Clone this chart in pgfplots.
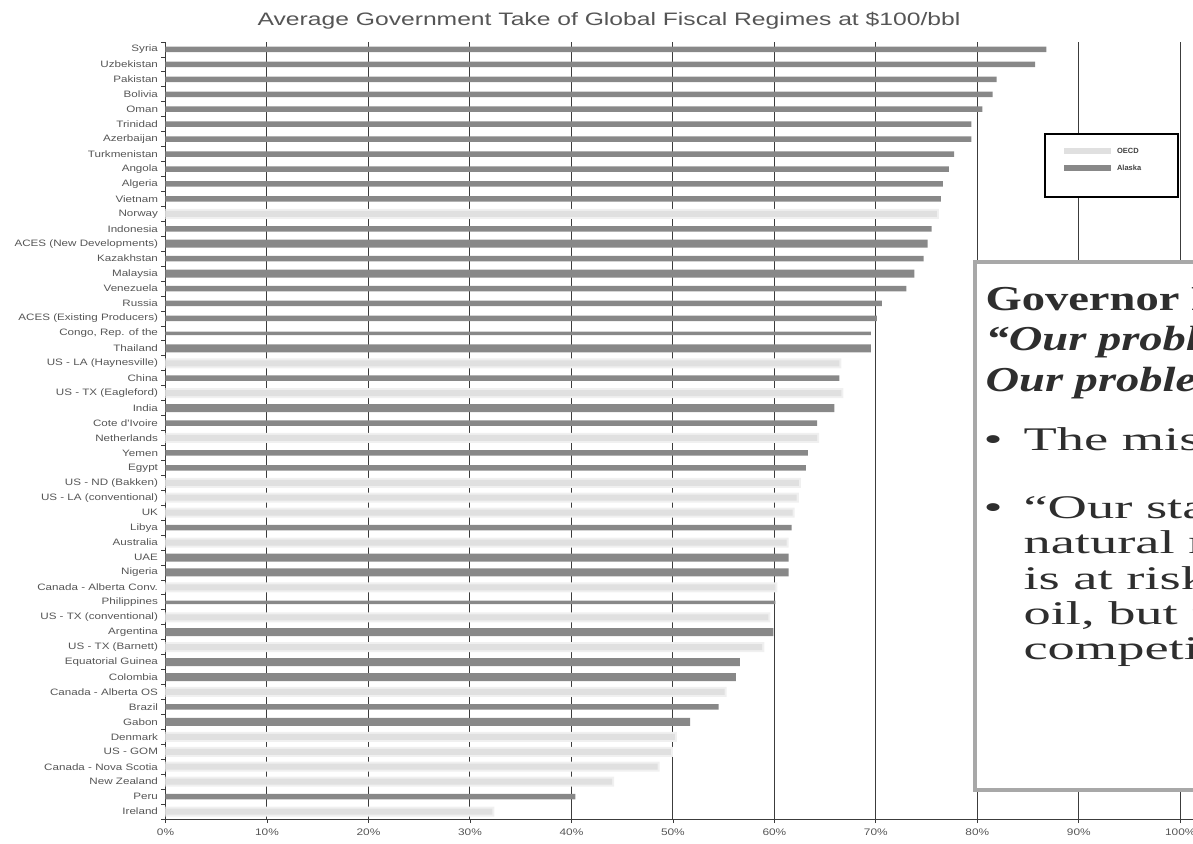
\documentclass[border=0pt]{standalone}
\usepackage{fontspec}
\usepackage{pgfplots}
\pgfplotsset{compat=1.18}
\setmainfont{Liberation Serif}
\newfontfamily\lblfont[FakeStretch=1.25]{Liberation Sans}
\newfontfamily\titlefont[FakeStretch=1.37]{Liberation Sans}
\newfontfamily\legfont{Liberation Sans}
\newfontfamily\boxhead[FakeStretch=1.33]{Liberation Serif}
\newfontfamily\boxbody[FakeStretch=1.65]{Liberation Serif}
\definecolor{barDark}{HTML}{888888}
\definecolor{barLight}{HTML}{E0E0E0}
\definecolor{barHaze}{HTML}{F0F0F0}
\definecolor{gridc}{HTML}{3C3C3C}
\definecolor{txtgray}{HTML}{555555}
\definecolor{boxframe}{HTML}{A8A8A8}
\definecolor{boxtext}{HTML}{2E2E2E}

\begin{document}
\begin{tikzpicture}[x=1pt,y=1pt]
\useasboundingbox (0,0) rectangle (1193,843);
\clip (0,0) rectangle (1193,843);

\node[font=\titlefont\fontsize{18}{21}\selectfont, text=txtgray] at (609,822)
  {Average Government Take of Global Fiscal Regimes at \$100/bbl};

\begin{axis}[
  at={(165.5pt,24pt)}, anchor=south west,
  scale only axis, width=1028pt, height=777pt,
  xmin=0, xmax=101.3, ymin=0.5, ymax=52.5,
  axis lines*=left,
  axis line style={gridc, line width=1pt},
  xtick={0,10,...,100},
  xticklabels={0\%,10\%,20\%,30\%,40\%,50\%,60\%,70\%,80\%,90\%,100\%},
  xmajorgrids,
  grid style={gridc, line width=1pt},
  tick align=outside,
  major tick length=4pt,
  tick style={gridc, line width=0.8pt},
  ytick={0.5,1.5,...,52.5},
  yticklabels={},
  extra y ticks={1,...,52},
  extra y tick style={tick style={draw=none}, yticklabel style={xshift=0pt}},
  extra y tick labels={Ireland,Peru,New Zealand,Canada - Nova Scotia,US - GOM,Denmark,
    Gabon,Brazil,Canada - Alberta OS,Colombia,Equatorial Guinea,US - TX (Barnett),
    Argentina,US - TX (conventional),Philippines,Canada - Alberta Conv.,Nigeria,UAE,
    Australia,Libya,UK,US - LA (conventional),US - ND (Bakken),Egypt,Yemen,Netherlands,
    Cote d'Ivoire,India,US - TX (Eagleford),China,US - LA (Haynesville),Thailand,
    {Congo, Rep. of the},ACES (Existing Producers),Russia,Venezuela,Malaysia,Kazakhstan,
    ACES (New Developments),Indonesia,Norway,Vietnam,Algeria,Angola,Turkmenistan,
    Azerbaijan,Trinidad,Oman,Bolivia,Pakistan,Uzbekistan,Syria},
  yticklabel style={font=\lblfont\fontsize{9.3}{10}\selectfont, text=txtgray},
  xticklabel style={font=\lblfont\fontsize{9.5}{10}\selectfont, text=txtgray, yshift=-2pt},
  legend style={at={(rel axis cs:0.8546,0.883)}, anchor=north west,
    draw=black, line width=2pt, fill=white,
    font=\legfont\bfseries\fontsize{7.5}{8}\selectfont, text=black!75,
    inner xsep=19pt, inner ysep=12pt, row sep=6pt},
  legend cell align=left,
  legend image code/.code={\fill[#1] (0pt,-3pt) rectangle (47pt,3pt);},
]
% OECD regimes: soft light bars (haze underneath, core on top)
\addplot[xbar, bar shift=0pt, bar width=10pt, fill=barHaze, draw=none, forget plot]
  coordinates {(76.2,41) (66.6,31) (66.8,29) (64.4,26) (62.6,23) (62.4,22) (62.0,21)
    (61.4,19) (60.3,16) (59.6,14) (59.0,12) (55.3,9) (50.4,6) (50.0,5) (48.7,4)
    (44.2,3) (32.4,1)};
\addplot[xbar, bar shift=0pt, bar width=6pt, fill=barLight, draw=none]
  coordinates {(76.0,41) (66.4,31) (66.6,29) (64.2,26) (62.4,23) (62.2,22) (61.8,21)
    (61.2,19) (60.1,16) (59.4,14) (58.8,12) (55.1,9) (50.2,6) (49.8,5) (48.5,4)
    (44.0,3) (32.2,1)};
\addlegendentry{\hspace{4pt}\makebox[40pt][l]{OECD}}
% remaining regimes
\addplot[xbar, bar shift=0pt, bar width=5.5pt, fill=barDark, draw=none]
  coordinates {(86.8,52) (85.7,51) (81.9,50) (81.5,49) (80.5,48) (79.4,47) (79.4,46)
    (77.7,45) (77.2,44) (76.6,43) (76.4,42) (75.5,40) (74.7,38) (73.0,36) (70.6,35)
    (70.1,34) (66.4,30) (64.2,27) (63.3,25) (63.1,24) (61.7,20) (54.5,8) (40.4,2)};
\addlegendentry{\hspace{4pt}\makebox[40pt][l]{Alaska}}
\addlegendimage{empty legend}
\addlegendentry{}
\addplot[xbar, bar shift=0pt, bar width=8pt, fill=barDark, draw=none, forget plot]
  coordinates {(75.1,39) (73.8,37) (69.5,32) (65.9,28) (61.4,18) (61.4,17) (59.9,13)
    (56.6,11) (56.2,10) (51.7,7)};
\addplot[xbar, bar shift=0pt, bar width=3.5pt, fill=barDark, draw=none, forget plot]
  coordinates {(69.5,33) (60.1,15)};
\end{axis}

% quotation panel
\draw[boxframe, line width=4pt, fill=white] (975,53) rectangle (1210,581);
\begin{scope}[text=boxtext]
\node[anchor=base west, font=\boxhead\bfseries\fontsize{35}{40}\selectfont] at (982,532)
  {Governor Parnell:};
\node[anchor=base west, font=\boxhead\bfseries\itshape\fontsize{35}{40}\selectfont] at (982,492)
  {“Our problem is not a lack of oil.};
\node[anchor=base west, font=\boxhead\bfseries\itshape\fontsize{35}{40}\selectfont] at (982,451)
  {Our problem is a lack of production.”};
\node[anchor=base west, font=\boxbody\fontsize{33}{36}\selectfont] at (980,392) {•};
\node[anchor=base west, font=\boxbody\fontsize{33}{36}\selectfont] at (1020,392)
  {The mission is more oil in the pipeline};
\node[anchor=base west, font=\boxbody\fontsize{33}{36}\selectfont] at (980,324) {•};
\node[anchor=base west, font=\boxbody\fontsize{33}{36}\selectfont] at (1020,324)
  {“Our state’s future, built on};
\node[anchor=base west, font=\boxbody\fontsize{33}{36}\selectfont] at (1020,289)
  {natural resources and production,};
\node[anchor=base west, font=\boxbody\fontsize{33}{36}\selectfont] at (1020,253)
  {is at risk. Not from a lack of};
\node[anchor=base west, font=\boxbody\fontsize{33}{36}\selectfont] at (1020,218)
  {oil, but from a lack of};
\node[anchor=base west, font=\boxbody\fontsize{33}{36}\selectfont] at (1020,183)
  {competitiveness.”};
\end{scope}
\end{tikzpicture}
\end{document}
